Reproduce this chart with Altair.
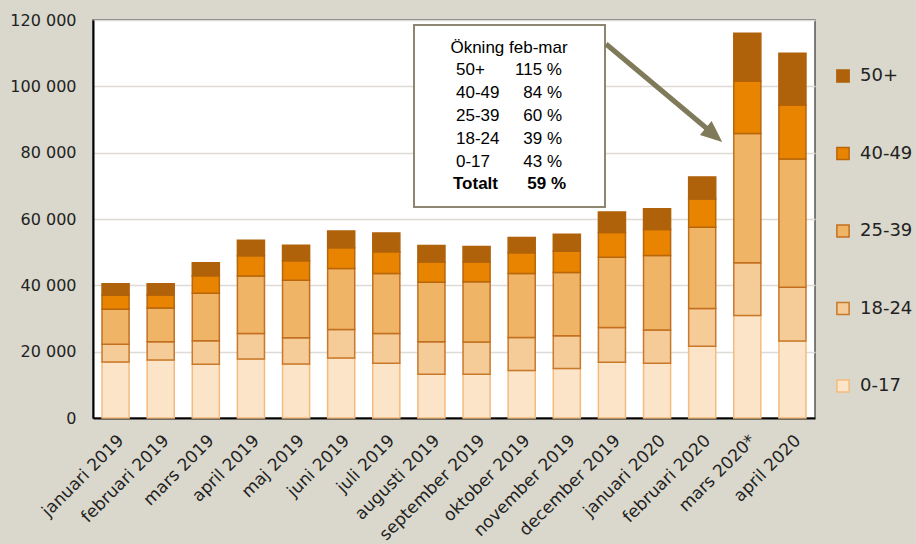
import altair as alt
import pandas as pd

months = ["januari 2019", "februari 2019", "mars 2019", "april 2019", "maj 2019",
          "juni 2019", "juli 2019", "augusti 2019", "september 2019", "oktober 2019",
          "november 2019", "december 2019", "januari 2020", "februari 2020",
          "mars 2020*", "april 2020"]
groups = ["0-17", "18-24", "25-39", "40-49", "50+"]
age_0_17 = [16900, 17500, 16200, 17800, 16300, 18100, 16500, 13200, 13200, 14300, 14900, 16800, 16500, 21600, 30900, 23200]
age_18_24 = [5300, 5500, 7100, 7700, 7900, 8600, 9000, 9800, 9700, 10000, 9900, 10500, 10000, 11400, 15900, 16200]
age_25_39 = [10600, 10200, 14300, 17300, 17300, 18400, 18100, 17900, 18200, 19300, 19100, 21200, 22500, 24500, 39000, 38700]
age_40_49 = [4200, 3900, 5300, 6100, 5900, 6200, 6500, 6100, 5900, 6200, 6400, 7400, 7800, 8500, 15800, 16300]
age_50 = [3500, 3400, 3900, 4700, 4700, 5100, 5700, 5000, 4700, 4600, 5100, 6200, 6300, 6700, 14400, 15600]
series = [age_0_17, age_18_24, age_25_39, age_40_49, age_50]

fills = ["#FCE4C9", "#F5CB98", "#F0B466", "#E88400", "#B0620A"]
strokes = ["#F3BC7E", "#C8792A", "#C27020", "#B8660A", "#B0620A"]

ann_title = "Ökning feb-mar"
ann_groups = ["50+", "40-49", "25-39", "18-24", "0-17"]
ann_values = ["115 %", "84 %", "60 %", "39 %", "43 %"]
ann_total = ["Totalt", "59 %"]

rows = []
for g_i, (g, vals) in enumerate(zip(groups, series)):
    for m, v in zip(months, vals):
        rows.append({"month": m, "group": g, "value": v, "rank": g_i})
df = pd.DataFrame(rows)

legend_order = list(reversed(groups))
color_scale = alt.Scale(domain=legend_order, range=list(reversed(fills)))
stroke_scale = alt.Scale(domain=legend_order, range=list(reversed(strokes)))

AXFONT = "DejaVu Sans"

bars = alt.Chart(df).mark_bar(strokeWidth=1.5).encode(
    x=alt.X("month:N", sort=months, title=None,
            scale=alt.Scale(paddingInner=0.4, paddingOuter=0.2),
            axis=alt.Axis(labelAngle=-45, labelFontSize=17,
                          labelFont=AXFONT, labelColor="#222", ticks=False,
                          labelPadding=14, domainColor="#000", domainWidth=2)),
    y=alt.Y("value:Q", stack="zero", title=None,
            scale=alt.Scale(domain=[0, 120000], nice=False),
            axis=alt.Axis(values=[0, 20000, 40000, 60000, 80000, 100000, 120000],
                          labelExpr="replace(format(datum.value, ','), ',', ' ')",
                          labelFontSize=16, labelFont=AXFONT, labelColor="#222",
                          ticks=False, labelPadding=17, domainColor="#000", domainWidth=2,
                          gridColor="#DEDBD6", gridWidth=1.5)),
    color=alt.Color("group:N", scale=color_scale, title=None,
                    legend=alt.Legend(orient="none", legendX=741, legendY=47,
                                      symbolType="square", symbolSize=150,
                                      labelFontSize=18, labelFont=AXFONT, labelColor="#222",
                                      rowPadding=57.5, labelOffset=8, padding=0,
                                      symbolStrokeWidth=1.5)),
    stroke=alt.Stroke("group:N", scale=stroke_scale, title=None),
    order=alt.Order("rank:Q", sort="ascending"),
)

one = pd.DataFrame({"a": [0]})
X0, Y0 = 93, 20

box = alt.Chart(one).mark_rect(fill="white", stroke="#8C8672", strokeWidth=2).encode(
    x=alt.value(414 - X0), x2=alt.value(605 - X0),
    y=alt.value(25 - Y0), y2=alt.value(207 - Y0))

title_txt = alt.Chart(one).mark_text(font="Liberation Sans", fontSize=17, color="#000",
                                     align="center", baseline="alphabetic").encode(
    x=alt.value(509 - X0), y=alt.value(53 - Y0), text=alt.value(ann_title))

grp_txt = alt.Chart(one).mark_text(font="Liberation Sans", fontSize=17, color="#000",
                                   align="left", baseline="alphabetic",
                                   lineBreak="\n", lineHeight=22.9).encode(
    x=alt.value(456 - X0), y=alt.value(75 - Y0), text=alt.value("\n".join(ann_groups)))

val_txt = alt.Chart(one).mark_text(font="Liberation Sans", fontSize=17, color="#000",
                                   align="right", baseline="alphabetic",
                                   lineBreak="\n", lineHeight=22.9).encode(
    x=alt.value(562 - X0), y=alt.value(75 - Y0), text=alt.value("\n".join(ann_values)))

tot_lbl = alt.Chart(one).mark_text(font="Liberation Sans", fontSize=17, fontWeight="bold",
                                   color="#000", align="left", baseline="alphabetic").encode(
    x=alt.value(453 - X0), y=alt.value(189 - Y0), text=alt.value(ann_total[0]))
tot_val = alt.Chart(one).mark_text(font="Liberation Sans", fontSize=17, fontWeight="bold",
                                   color="#000", align="right", baseline="alphabetic").encode(
    x=alt.value(566 - X0), y=alt.value(189 - Y0), text=alt.value(ann_total[1]))

arrow_line = alt.Chart(one).mark_rule(color="#7F7A5A", strokeWidth=5).encode(
    x=alt.value(606 - X0), y=alt.value(44 - Y0),
    x2=alt.value(711 - X0), y2=alt.value(132 - Y0))
arrow_head = alt.Chart(one).mark_point(
    shape="M -1 -0.85 L 1 0 L -1 0.85 Z", filled=True, color="#7F7A5A",
    opacity=1, size=460, angle=40, strokeWidth=0).encode(
    x=alt.value(714 - X0), y=alt.value(135 - Y0))

chart = alt.layer(bars, box, title_txt, grp_txt, val_txt, tot_lbl, tot_val,
                  arrow_line, arrow_head).properties(
    width=722, height=398,
    autosize=alt.AutoSizeParams(type="none"),
    padding={"left": 93, "top": 20, "right": 101, "bottom": 126},
    background="#DAD8CC",
).configure_view(fill="white", stroke="#555", strokeWidth=1.5)

chart.save("out.html", embed_options={"renderer": "svg", "actions": False})
